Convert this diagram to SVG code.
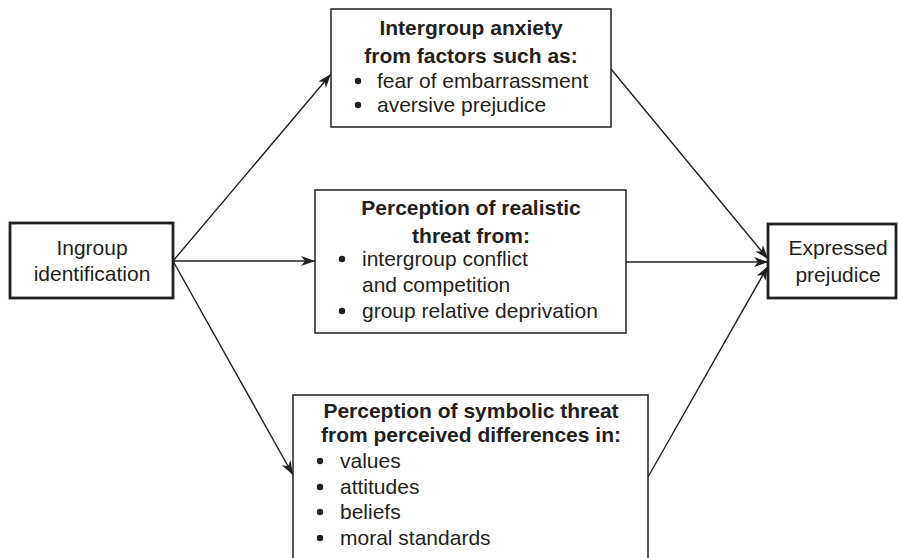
<svg xmlns="http://www.w3.org/2000/svg" width="898" height="558" viewBox="0 0 898 558">
<defs>
<marker id="arr" markerUnits="userSpaceOnUse" markerWidth="16" markerHeight="12" refX="14" refY="5" orient="auto">
<path d="M0,0 L14,5 L0,10 L4,5 z" fill="#231f20"/>
</marker>
<style>
text{font-family:"Liberation Sans",Arial,sans-serif;font-size:21px;fill:#231f20}
.b{font-weight:bold}
.m{text-anchor:middle}
.box{fill:#fff;stroke:#231f20;stroke-width:1.5}
.tbox{fill:#fff;stroke:#231f20;stroke-width:2.8}
.dot{fill:#231f20}
.c line{stroke:#231f20;stroke-width:1.4;marker-end:url(#arr)}
</style>
</defs>
<rect width="898" height="558" fill="#fff"/>
<g class="c" id="connectors">
<line x1="173" y1="261" x2="331" y2="74"/>
<line x1="173" y1="261" x2="315" y2="261"/>
<line x1="173" y1="261" x2="293" y2="475"/>
<line x1="611" y1="69" x2="768" y2="259"/>
<line x1="626" y1="262" x2="768" y2="262"/>
<line x1="648" y1="477" x2="768" y2="266"/>
</g>
<g id="ingroup">
<rect class="tbox" x="10" y="223" width="163" height="75"/>
<text class="m" x="92" y="255">Ingroup</text>
<text class="m" x="92" y="281">identification</text>
</g>
<g id="anxiety">
<rect class="box" x="331" y="9" width="280" height="118"/>
<text class="b m" x="471" y="35">Intergroup anxiety</text>
<text class="b m" x="471" y="63">from factors such as:</text>
<circle class="dot" cx="358" cy="81" r="3.2"/>
<text x="377" y="88">fear of embarrassment</text>
<circle class="dot" cx="358" cy="105" r="3.2"/>
<text x="377" y="112">aversive prejudice</text>
</g>
<g id="realistic">
<rect class="box" x="315" y="190" width="311" height="143"/>
<text class="b m" x="471" y="215">Perception of realistic</text>
<text class="b m" x="471" y="243">threat from:</text>
<circle class="dot" cx="342" cy="259" r="3.2"/>
<text x="362" y="266">intergroup conflict</text>
<text x="362" y="292">and competition</text>
<circle class="dot" cx="342" cy="311" r="3.2"/>
<text x="362" y="318">group relative deprivation</text>
</g>
<g id="symbolic">
<rect class="box" x="293" y="395" width="355" height="180"/>
<text class="b m" x="471" y="418">Perception of symbolic threat</text>
<text class="b m" x="471" y="442">from perceived differences in:</text>
<circle class="dot" cx="320" cy="461" r="3.2"/>
<text x="340" y="468">values</text>
<circle class="dot" cx="320" cy="487" r="3.2"/>
<text x="340" y="494">attitudes</text>
<circle class="dot" cx="320" cy="512" r="3.2"/>
<text x="340" y="519">beliefs</text>
<circle class="dot" cx="320" cy="538" r="3.2"/>
<text x="340" y="545">moral standards</text>
</g>
<g id="expressed">
<rect class="tbox" x="768" y="224" width="128" height="74"/>
<text class="m" x="838" y="255">Expressed</text>
<text class="m" x="838" y="282">prejudice</text>
</g>
</svg>
